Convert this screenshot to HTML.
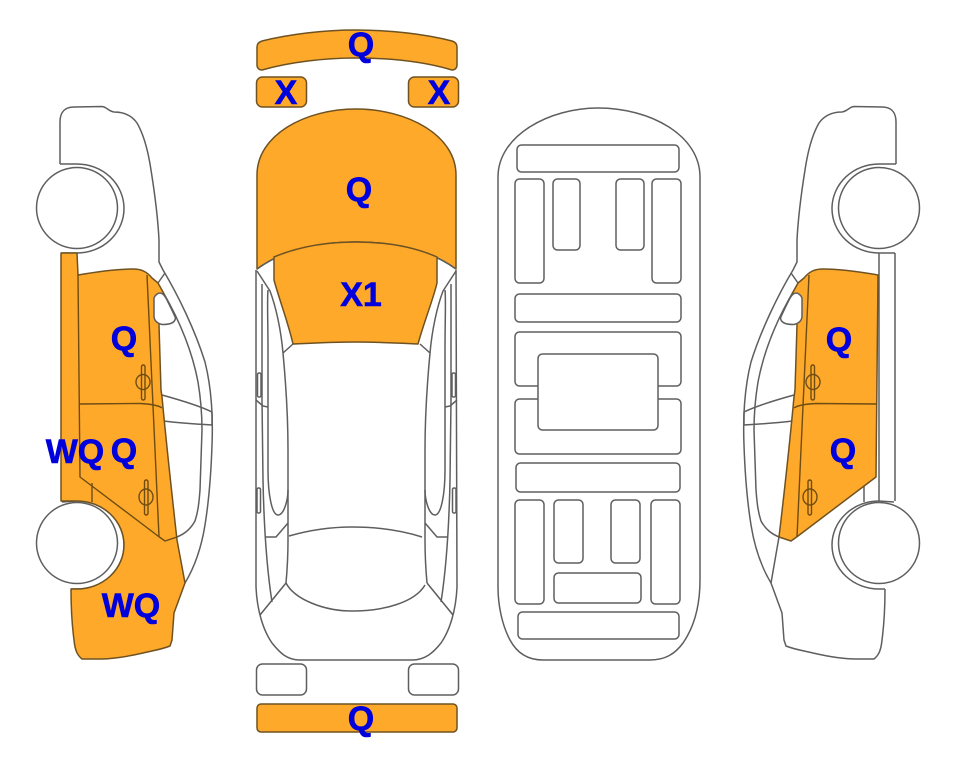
<!DOCTYPE html>
<html><head><meta charset="utf-8"><style>
html,body{margin:0;padding:0;background:#fff;width:963px;height:768px;overflow:hidden}
svg{display:block}
text{font-family:"Liberation Sans",sans-serif;font-weight:bold;fill:#0000dc;stroke:#0000dc;stroke-width:.6;font-size:34px}
.w{fill:#fff;stroke:#5e5e5e;stroke-width:1.5;stroke-linejoin:round}
.n{fill:none;stroke:#5e5e5e;stroke-width:1.5;stroke-linejoin:round}
.o{fill:#ffa92b;stroke:#6e5222;stroke-width:1.5;stroke-linejoin:round}
.d{fill:none;stroke:#6e4c12;stroke-width:1.4;stroke-linejoin:round}
</style></head><body>
<svg width="963" height="768" viewBox="0 0 963 768" xmlns="http://www.w3.org/2000/svg">
<defs>
<g id="body">
<path class="n" d="M60 164 L60 122 C60 112 65 107 74 107 L102 106.500 C107 107 108 111 114 112 C124 112 132 116 137 123 C144 135 148 150 151 170 C155 195 158 220 159 240 L159 262 L163 270 C178 295 195 330 205 362 C212 390 213 420 212 445 C211 475 209 500 205 525 C201 550 194 568 185 583"/>
<path class="n" d="M163 292 C178 318 192 350 198 382 C201 400 202 415 202 430 L200 490 C199 503 198 512 195 521 C190 530 184 534 177 537"/>
<path class="n" d="M158 283 L165 273"/>
<path class="n" d="M162 395 C180 400 200 406 212 412 L212 425 C195 424 180 423 163 421"/>
<path class="n" d="M124 208 A47 44.500 0 0 0 77 164 L60 164"/>
<path class="n" d="M124 208 A47 44.500 0 0 1 77 253 L61 253"/>
<path class="n" d="M62 502 L77 501 A47 44 0 0 1 124 545 A47 44 0 0 1 77 589 L71 589"/>
</g>
<g id="tires">
<circle class="w" cx="77" cy="208" r="40.500"/>
<circle class="w" cx="77" cy="543" r="40.500"/>
</g>
<g id="handles">
<rect class="d" x="141.500" y="365" width="3.500" height="35" rx="1.700"/>
<ellipse class="d" cx="143" cy="382" rx="7" ry="7.500"/>
<rect class="d" x="144.500" y="480" width="3.500" height="35" rx="1.700"/>
<ellipse class="d" cx="146" cy="497" rx="7" ry="8"/>
</g>
</defs>

<!-- left side -->
<use href="#body"/>
<path class="o" d="M61 253 L77 253 L78 275 C95 272 115 269 133 269 C142 269 147 272 152 278 L158 283 L163 292 L166 300 L160 320 L159 325 L161 390 L162 397 C166 440 172 495 177 540 L185 583 L174 613 L172 640 L170 646 C160 650 150 651 143 653 C130 656 115 659 100 659 L82 659 C77 655 75 650 74 640 C72 625 71 605 71 589 L77 589 A47 44 0 0 0 124 545 A47 44 0 0 0 77 501 L61 501 Z"/>
<path class="w" d="M154 298 C155 295 158 293 160 293 C163 293 165 296 167 300 C170 306 174 314 175.500 318 C175 323 170 324.500 162 324.500 C156 323 154 320 154 316 Z"/>
<path class="d" d="M78 275 L80 477 L158 536 L165 541 L177 537"/>
<path class="d" d="M147 275 L159 537"/>
<path class="d" d="M79 404 L140 403.500 C150 404 158 405 162 408"/>
<path class="d" d="M92 483 L92 502"/>
<use href="#handles"/>
<use href="#tires"/>

<!-- right side -->
<g transform="translate(956,0) scale(-1,1)">
<use href="#body"/>
<path class="n" d="M61 253 L61 501 M77 253 L77 501 M92 483 L92 502 M71 589 C71 605 72 625 74 640 C75 650 77 655 82 659 L100 659 C115 659 130 656 143 653 C150 651 160 650 170 646 L172 640 L174 613 L185 583 L177 537"/>
<path class="o" d="M78 275 C95 272 115 269 133 269 C142 269 147 272 152 278 L158 283 L163 292 L166 300 L160 320 L159 325 L161 390 L162 397 C166 440 172 495 177 537 L165 541 L158 536 L80 477 Z"/>
<path class="w" d="M154 298 C155 295 158 293 160 293 C163 293 165 296 167 300 C170 306 174 314 175.500 318 C175 323 170 324.500 162 324.500 C156 323 154 320 154 316 Z"/>
<path class="d" d="M147 275 L159 537"/>
<path class="d" d="M79 404 L140 403.500 C150 404 158 405 162 408"/>
<use href="#handles"/>
<use href="#tires"/>
</g>

<!-- top view -->
<path class="n" d="M256 270 L256 587 C257 610 263 630 272 643 C280 653 287 660 300 660 L412 660 C425 660 433 653 441 643 C450 630 456 610 457 587 L456 270"/>
<path class="o" d="M257 269 L257 175 C257 135 305 109 356 109 C407 109 456 135 456 175 L456 269 C430 250 395 242 356 242 C317 242 283 250 257 269 Z"/>
<path class="n" d="M257 269 C283 250 317 242 356 242 C395 242 430 250 456 269"/>
<path class="o" d="M274 257 C300 246 330 242 356 242 C383 242 412 246 437 257 L437 283 C433 300 424 322 418 344 C395 343 375 342 355 342 C335 342 315 343 293 344 C288 322 280 302 274 280 Z"/>
<g id="topside">
<path class="n" d="M257 271 L270 291 C276 307 281 330 283 353 C286 385 288 420 288 450 L288 540 C288 560 287 572 286 583"/>
<path class="n" d="M283 353 L293 344"/>
<path class="n" d="M262 284 L262 400 L263 480 C264 530 267 570 272 602"/>
<path class="n" d="M268 290 C267 300 268 320 268 350 L268 470 C268 495 272 515 278 515 C284 515 288 500 288 490"/>
<path class="n" d="M265 537 L276 537 L288 523"/>
<path class="n" d="M286 583 L260 615"/>
<path class="n" d="M256 400 L263 406 L268 407"/>
<rect class="n" x="257.500" y="373" width="3.500" height="24" rx="1.500"/>
<rect class="n" x="257" y="488" width="3.500" height="25" rx="1.500"/>
</g>
<use href="#topside" transform="translate(713,0) scale(-1,1)"/>
<path class="n" d="M289 536 C310 530 330 527 352 527 C375 527 400 530 422 537"/>
<path class="n" d="M286 583 C295 600 325 611 352 611 C385 611 415 602 425 585"/>
<path class="o" d="M257 47 C257 44 259 42 262 41 C290 34 325 30 355 30 C390 30 425 34 452 41 C455 42 457 44 457 47 L457 65 C457 68 455 70 452 70 C425 62 390 58 355 58 C325 58 290 62 262 70 C259 70 257 68 257 65 Z"/>
<rect class="o" x="256.500" y="77" width="50" height="30" rx="6"/>
<rect class="o" x="408.500" y="77" width="50" height="30" rx="6"/>
<rect class="w" x="256.500" y="664" width="50" height="31" rx="6"/>
<rect class="w" x="408.500" y="664" width="50" height="31" rx="6"/>
<rect class="o" x="257" y="704" width="200" height="28" rx="4"/>

<!-- underbody -->
<path class="n" d="M498 177 C498 135 550 108 598 108 C650 108 700 135 700 177 L700 580 C700 610 692 630 683 643 C675 654 665 660 650 660 L543 660 C530 660 518 655 510 640 C502 625 498 605 498 587 Z"/>
<rect class="n" x="517" y="145" width="162" height="27" rx="4.500"/>
<rect class="n" x="515" y="179" width="29" height="104" rx="4.500"/>
<rect class="n" x="553" y="179" width="27" height="71" rx="4.500"/>
<rect class="n" x="616" y="179" width="28" height="71" rx="4.500"/>
<rect class="n" x="652" y="179" width="29" height="104" rx="4.500"/>
<rect class="n" x="515" y="294" width="166" height="28" rx="4.500"/>
<rect class="n" x="515" y="332" width="166" height="54" rx="4.500"/>
<rect class="n" x="515" y="399" width="166" height="55" rx="4.500"/>
<rect class="w" x="538" y="354" width="120" height="76" rx="4.500"/>
<rect class="n" x="516" y="463" width="164" height="29" rx="4.500"/>
<rect class="n" x="515" y="500" width="29" height="104" rx="4.500"/>
<rect class="n" x="554" y="500" width="29" height="63" rx="4.500"/>
<rect class="n" x="611" y="500" width="29" height="63" rx="4.500"/>
<rect class="n" x="651" y="500" width="29" height="104" rx="4.500"/>
<rect class="n" x="554" y="573" width="87" height="30" rx="4.500"/>
<rect class="n" x="518" y="612" width="161" height="27" rx="4.500"/>

<!-- labels -->
<g text-anchor="middle">
<text x="361" y="56">Q</text>
<text x="286" y="104">X</text>
<text x="439" y="104">X</text>
<text x="359" y="201">Q</text>
<text x="361" y="306">X1</text>
<text x="124" y="350">Q</text>
<text x="75" y="463">WQ</text>
<text x="124" y="462">Q</text>
<text x="131" y="617">WQ</text>
<text x="839" y="351">Q</text>
<text x="843" y="462">Q</text>
<text x="361" y="730">Q</text>
</g>
</svg>
</body></html>
